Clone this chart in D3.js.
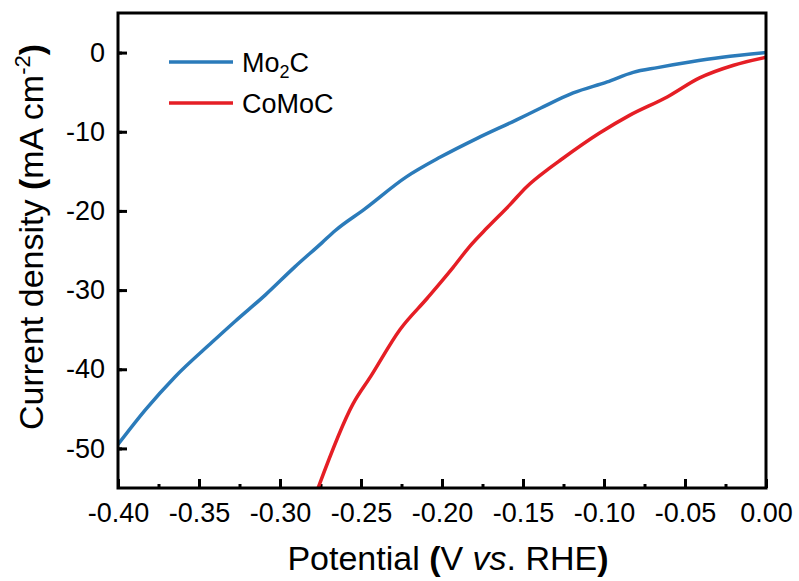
<!DOCTYPE html>
<meta charset="utf-8">
<style>
    body { margin: 0; background: #fff; }
    svg { font-family: "Liberation Sans", Arial, sans-serif; }
    .axis text { font-size: 27px; fill: #000; }
    .axis line { stroke: #000; stroke-width: 3px; }
    .frame { fill: none; stroke: #000; stroke-width: 3px; }
    .curve { fill: none; stroke-width: 3.5px; stroke-linejoin: round; }
</style>
<body>
<script src="https://d3js.org/d3.v7.min.js"></script>
<script>

// LSV curves, potential (V vs. RHE) and current density (mA cm-2)
const mo2cPotential = [-0.400, -0.383, -0.365, -0.342, -0.328, -0.309, -0.291, -0.274, -0.266, -0.248,
    -0.222, -0.201, -0.178, -0.154, -0.139, -0.119, -0.098, -0.082, -0.067, -0.047, -0.027, 0.000];
const mo2cCurrent = [-49.5, -45.1, -41.0, -36.6, -34.0, -30.6, -27.1, -24.0, -22.5, -19.8,
    -15.7, -13.2, -10.8, -8.5, -7.0, -5.1, -3.7, -2.5, -1.9, -1.2, -0.6, 0.0];

const comocPotential = [-0.2765, -0.255, -0.244, -0.226, -0.209, -0.193, -0.183, -0.172, -0.158, -0.148,
    -0.133, -0.127, -0.103, -0.084, -0.061, -0.041, -0.020, 0.000];
const comocCurrent = [-55.0, -44.4, -40.9, -35.0, -31.0, -27.1, -24.5, -22.1, -19.2, -17.0,
    -14.5, -13.6, -10.2, -7.9, -5.6, -3.2, -1.6, -0.6];

const xTicks = [-0.40, -0.35, -0.30, -0.25, -0.20, -0.15, -0.10, -0.05, 0.00];
const yTicks = [0, -10, -20, -30, -40, -50];

const series = [
    { name: "Mo2C", color: "#2b7bba", x: mo2cPotential, y: mo2cCurrent },
    { name: "CoMoC", color: "#e51e25", x: comocPotential, y: comocCurrent }
];

const width = 799, height = 581;
const margin = { top: 13, right: 33, bottom: 93, left: 118 };

const svg = d3.select("body").append("svg")
    .attr("width", width)
    .attr("height", height);

const x = d3.scaleLinear().domain([-0.40, 0.00]).range([margin.left, width - margin.right]);
const y = d3.scaleLinear().domain([-55, 5]).range([height - margin.bottom, margin.top]);

const hyphen = s => s.replace("\u2212", "-");

// minor ticks
const xMinor = d3.range(-0.375, 0, 0.05);
const yMinor = d3.range(-55, 5, 10).map(d => d + 5).filter(d => d < 5);

svg.append("g")
    .attr("class", "axis")
    .attr("transform", `translate(0,${y.range()[0]})`)
    .call(d3.axisBottom(x).tickValues(xMinor).tickSize(-4).tickFormat(""))
    .call(g => g.select(".domain").remove());

svg.append("g")
    .attr("class", "axis")
    .attr("transform", `translate(${x.range()[0]},0)`)
    .call(d3.axisLeft(y).tickValues(yMinor).tickSize(-4).tickFormat(""))
    .call(g => g.select(".domain").remove());

svg.append("g")
    .attr("class", "axis")
    .attr("transform", `translate(0,${y.range()[0]})`)
    .call(d3.axisBottom(x).tickValues(xTicks).tickSize(-9).tickPadding(15)
        .tickFormat(d => hyphen(d3.format(".2f")(d))))
    .call(g => g.select(".domain").remove());

svg.append("g")
    .attr("class", "axis")
    .attr("transform", `translate(${x.range()[0]},0)`)
    .call(d3.axisLeft(y).tickValues(yTicks).tickSize(-9).tickPadding(13)
        .tickFormat(d => hyphen(d3.format("d")(d))))
    .call(g => g.select(".domain").remove());

// clip and curves
svg.append("clipPath").attr("id", "plot")
    .append("rect")
    .attr("x", x.range()[0]).attr("y", y.range()[1])
    .attr("width", x.range()[1] - x.range()[0])
    .attr("height", y.range()[0] - y.range()[1]);

const line = d3.line()
    .x(d => x(d[0]))
    .y(d => y(d[1]))
    .curve(d3.curveMonotoneX);

series.forEach(s => {
    svg.append("path")
        .datum(d3.zip(s.x, s.y))
        .attr("class", "curve")
        .attr("clip-path", "url(#plot)")
        .attr("stroke", s.color)
        .attr("d", line);
});

svg.append("rect")
    .attr("class", "frame")
    .attr("x", x.range()[0]).attr("y", y.range()[1])
    .attr("width", x.range()[1] - x.range()[0])
    .attr("height", y.range()[0] - y.range()[1]);

// legend
const legend = svg.append("g").attr("transform", "translate(169,62)");
series.forEach((s, i) => {
    const g = legend.append("g").attr("transform", `translate(0,${i * 41})`);
    g.append("line")
        .attr("x1", 0).attr("x2", 64)
        .attr("stroke", s.color).attr("stroke-width", 3.5);
    const t = g.append("text")
        .attr("x", 73).attr("y", 10)
        .attr("font-size", 27);
    if (s.name === "Mo2C") {
        t.append("tspan").text("Mo");
        t.append("tspan").attr("font-size", 18).attr("dy", 6).text("2");
        t.append("tspan").attr("dy", -6).text("C");
    } else {
        t.text(s.name);
    }
});

// axis titles
const xt = svg.append("text")
    .attr("x", 448).attr("y", 570)
    .attr("text-anchor", "middle")
    .attr("font-size", 34);
xt.append("tspan").text("Potential ");
xt.append("tspan").attr("font-weight", "bold").text("(");
xt.append("tspan").text("V ");
xt.append("tspan").attr("font-style", "italic").text("vs");
xt.append("tspan").text(". RHE");
xt.append("tspan").attr("font-weight", "bold").text(")");

const yt = svg.append("text")
    .attr("transform", "translate(43,237) rotate(-90)")
    .attr("text-anchor", "middle")
    .attr("font-size", 34);
yt.append("tspan").text("Current density ");
yt.append("tspan").attr("font-weight", "bold").text("(");
yt.append("tspan").text("mA cm");
yt.append("tspan").attr("font-size", 22).attr("dy", -13).text("-2");
yt.append("tspan").attr("font-weight", "bold").attr("dy", 13).text(")");

</script>
</body>
</html>
